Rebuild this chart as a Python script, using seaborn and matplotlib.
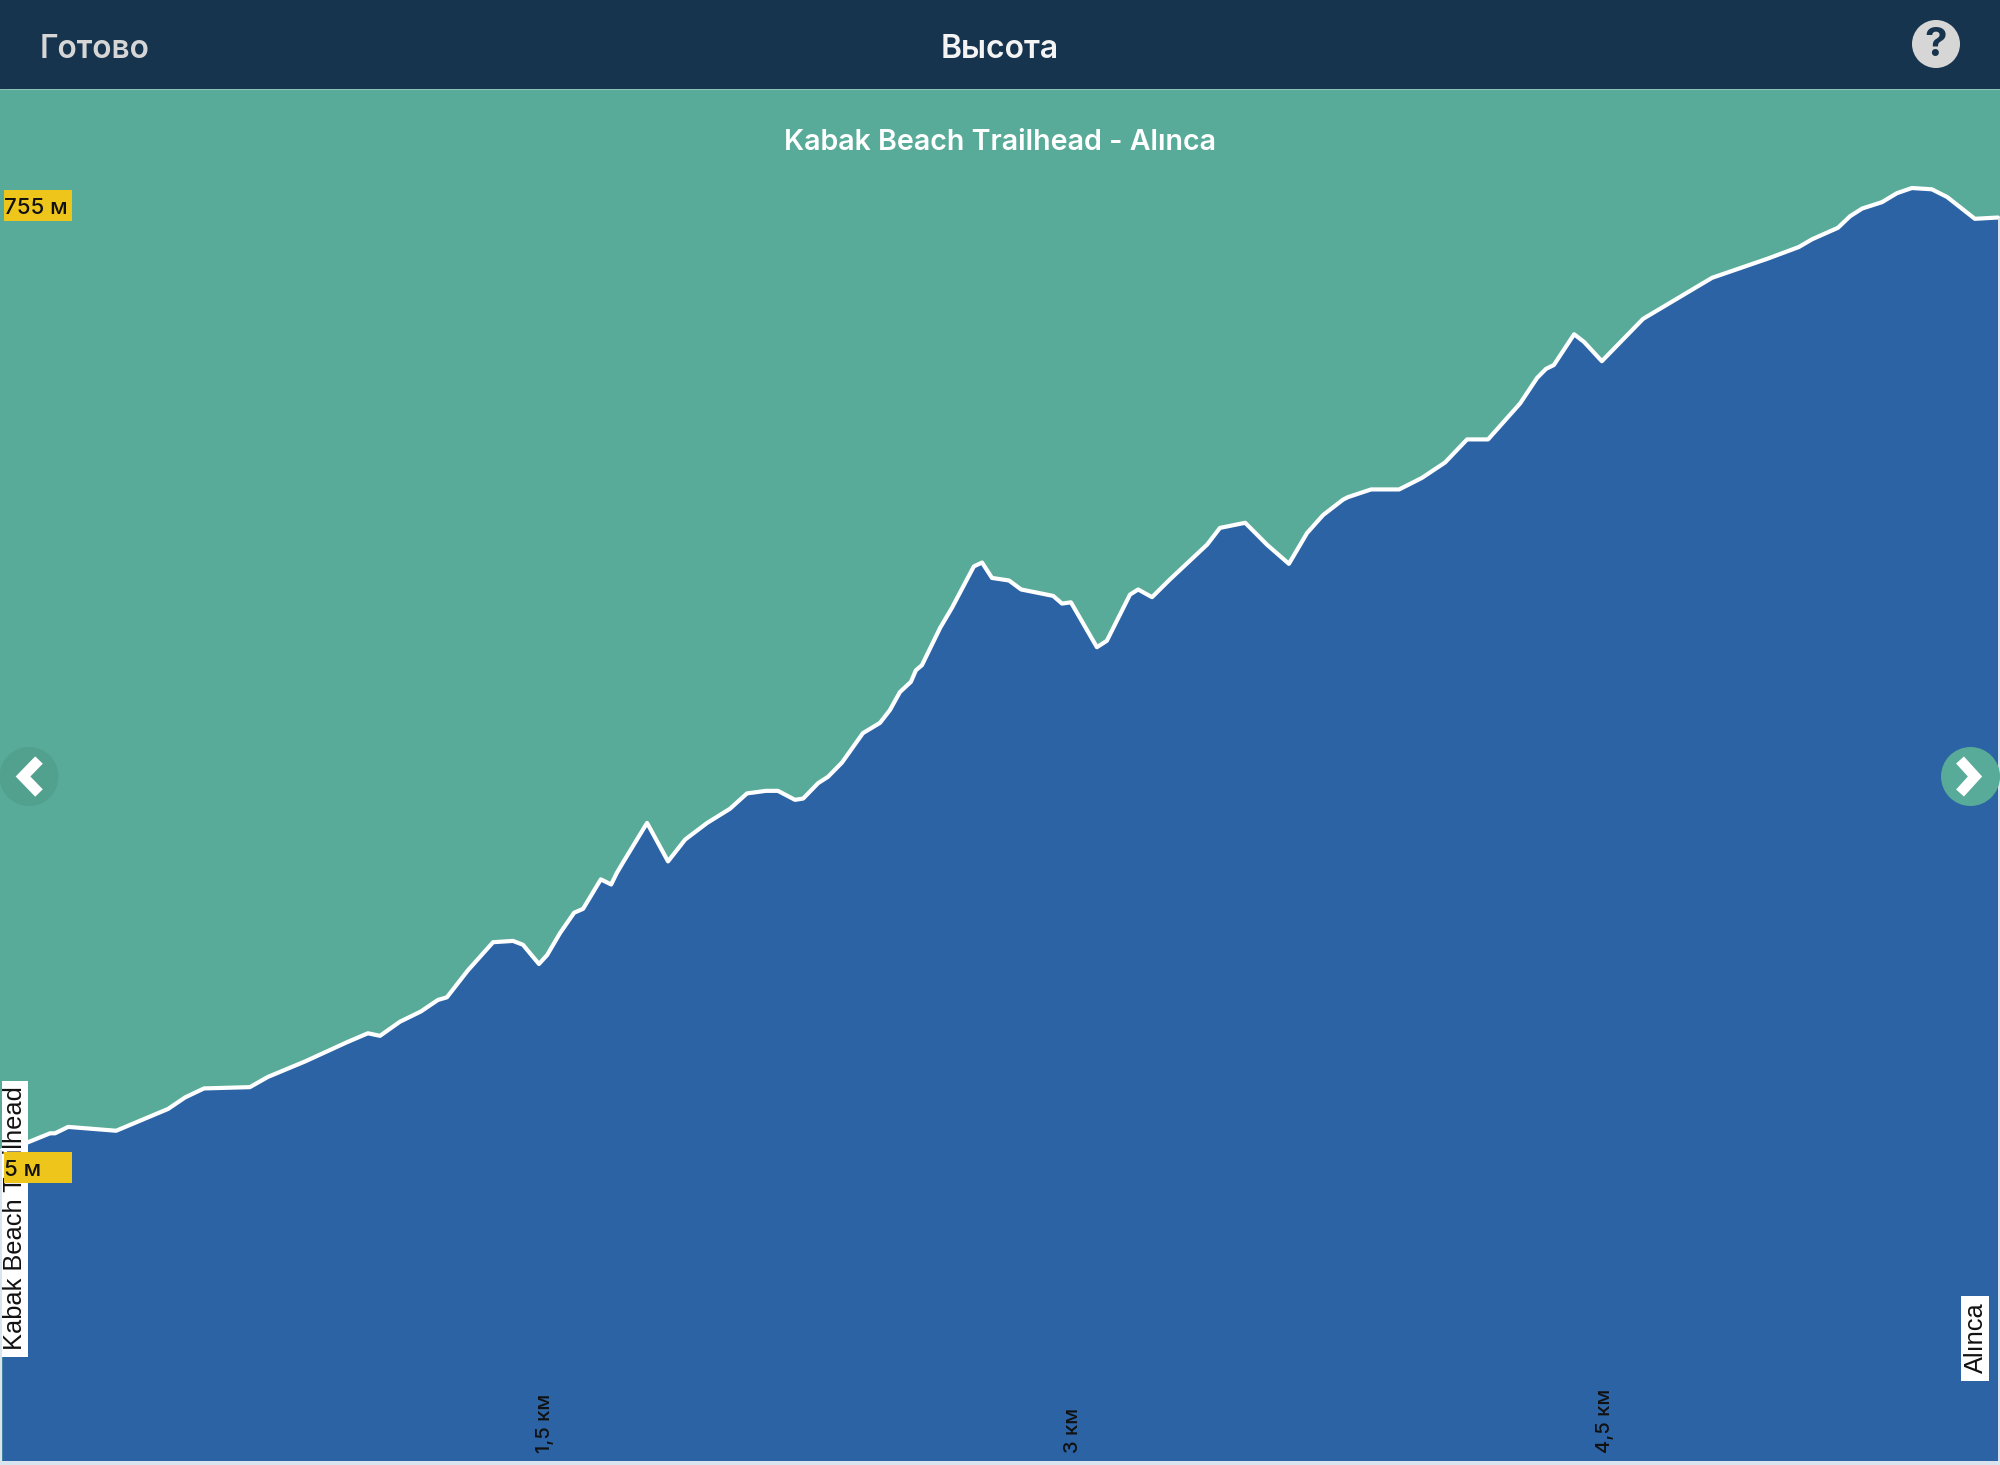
import matplotlib
matplotlib.use("Agg")
import matplotlib.pyplot as plt
import matplotlib.patches as mp
import pandas as pd
import seaborn as sns

# Values
distance_km = [0, .073, .135, .149, .186, .321, .467, .515, .568, .697, .748, .852, .970, 1.029, 1.063, 1.119,
               1.178, 1.226, 1.251, 1.310, 1.381, 1.437, 1.465, 1.510, 1.533, 1.569, 1.609, 1.634, 1.684, 1.713,
               1.729, 1.746, 1.814, 1.873, 1.921, 1.983, 2.047, 2.095, 2.148, 2.182, 2.230, 2.253, 2.295, 2.323,
               2.362, 2.421, 2.469, 2.497, 2.525, 2.556, 2.570, 2.587, 2.638, 2.672, 2.733, 2.756, 2.784, 2.832,
               2.866, 2.956, 2.981, 3.006, 3.079, 3.107, 3.172, 3.195, 3.234, 3.285, 3.335, 3.389, 3.425, 3.496,
               3.532, 3.557, 3.619, 3.670, 3.715, 3.771, 3.785, 3.850, 3.929, 3.993, 4.058, 4.120, 4.179, 4.269,
               4.317, 4.342, 4.364, 4.421, 4.449, 4.499, 4.615, 4.809, 4.966, 5.053, 5.090, 5.163, 5.197, 5.231,
               5.287, 5.329, 5.371, 5.427, 5.470, 5.548, 5.613]
elevation_m = [5, 11, 18, 18, 23, 20, 37, 46, 53, 54, 62, 74, 89, 96, 94, 105,
               113, 122, 124, 145, 167, 168, 165, 150, 157, 174, 190, 193, 216, 212,
               221, 229, 260, 230, 247, 260, 271, 283, 285, 285, 278, 279, 291, 296,
               307, 330, 338, 348, 362, 370, 379, 383, 412, 428, 460, 463, 451, 449,
               442, 437, 431, 432, 397, 402, 438, 442, 436, 450, 463, 477, 490, 494,
               484, 477, 462, 486, 500, 512, 514, 520, 520, 529, 541, 559, 559, 587,
               607, 614, 617, 641, 635, 620, 653, 685, 700, 709, 715, 724, 733, 739,
               744, 751, 755, 754, 748, 731, 732]
tick_positions = [1.526, 3.012, 4.507]
tick_labels = ["1,5 км", "3 км", "4,5 км"]
header_title = "Высота"
back_label = "Готово"
chart_title = "Kabak Beach Trailhead - Alınca"
max_label = "755 м"
min_label = "5 м"
start_name = "Kabak Beach Trailhead"
end_name = "Alınca"

NAVY, TEAL, BLUE, YELLOW = "#17344e", "#58ab98", "#2b63a4", "#eec61b"
LIGHT = "#d9e4ee"
UI_FONT = ["Inter", "Noto Sans", "DejaVu Sans"]
LABEL_FONT = ["Liberation Sans", "DejaVu Sans"]

sns.set_theme(style="white")
fig = plt.figure(figsize=(20, 14.65), dpi=100, facecolor=LIGHT)
W, H = 2000, 1465
TOP = 89

ax = fig.add_axes([0, 0, 1, 1 - TOP / H])
ax.set_facecolor(TEAL)
ax.set_axisbelow(False)
df = pd.DataFrame({"km": distance_km, "m": elevation_m})
base = -237.4
ax.fill_between(df["km"], df["m"], base, color=BLUE, lw=0)
sns.lineplot(data=df, x="km", y="m", color="white", lw=3.0, ax=ax, solid_joinstyle="round")
ax.axhspan(-260, base, color=LIGHT, lw=0)
ax.set_xlim(-2 / 355.6, 1998 / 355.6)
ax.set_ylim(-240.6, 832.2)
ax.set_xlabel("")
ax.set_ylabel("")
ax.set_yticks([])
for s in ax.spines.values():
    s.set_visible(False)
ax.set_xticks(tick_positions, tick_labels)
ax.tick_params(axis="x", length=0, direction="in", pad=-8.5)
for t in ax.get_xticklabels():
    t.set(rotation=90, va="bottom", ha="center", fontsize=14.5, color="#111111", family=UI_FONT, weight="medium")

ui = fig.add_axes([0, 0, 1, 1], facecolor="none")
ui.set_xlim(0, W)
ui.set_ylim(H, 0)
ui.axis("off")

ui.add_patch(mp.Rectangle((0, 0), W, TOP, color=NAVY, lw=0))
ui.plot([0, W], [TOP, TOP], color="#8fc4b6", lw=0.7)
# thin pale edges beside the blue area
ui.add_patch(mp.Rectangle((0, 1150), 2, H - 1150, color=LIGHT, lw=0))
ui.add_patch(mp.Rectangle((1998, 218), 2, H - 218, color=LIGHT, lw=0))

ui.text(40, 49, back_label, color="#d6d6d6", fontsize=22.8, va="center", ha="left", family=UI_FONT, weight="semibold")
ui.text(1000, 49, header_title, color="#f4f4f4", fontsize=23, va="center", ha="center", family=UI_FONT, weight="semibold")
ui.text(1000, 142, chart_title, color="white", fontsize=20.6, va="center", ha="center", family=UI_FONT, weight="semibold")

ui.add_patch(mp.Circle((1936, 44), 24, color="#d6d6d6", lw=0))
ui.text(1936, 45, "?", color=NAVY, fontsize=29, weight="bold", va="center", ha="center", family=UI_FONT)

# endpoint name labels (under the value tags)
ui.add_patch(mp.Rectangle((2, 1081), 26, 276, color="white", lw=0, zorder=4))
ui.text(15.5, 1350, start_name, rotation=90, fontsize=18.3, color="#111111", va="bottom", ha="center", family=LABEL_FONT, zorder=5)
ui.add_patch(mp.Rectangle((1961, 1296), 28, 85, color="white", lw=0, zorder=4))
ui.text(1976, 1373, end_name, rotation=90, fontsize=18.3, color="#111111", va="bottom", ha="center", family=LABEL_FONT, zorder=5)

for y, lab in [(205.5, max_label), (1167.5, min_label)]:
    ui.add_patch(mp.Rectangle((4, y - 15.5), 68, 31, color=YELLOW, lw=0, zorder=6))
    ui.text(4, y + 2, lab, color="#111111", fontsize=16, va="center", ha="left", family=UI_FONT, weight="medium", zorder=7)

ui.add_patch(mp.Circle((29, 776.5), 29.5, color="#52a08e", lw=0, zorder=4))
ui.plot([39, 23, 39], [760, 776.5, 793], color="white", lw=7.6, solid_joinstyle="miter", solid_capstyle="butt", zorder=5)
ui.add_patch(mp.Circle((1970.5, 776.5), 29.5, color=TEAL, lw=0, zorder=4))
ui.plot([1960, 1975, 1960], [760, 776.5, 793], color="white", lw=7.6, solid_joinstyle="miter", solid_capstyle="butt", zorder=5)

fig.savefig("out.png", dpi=100, facecolor=fig.get_facecolor())
